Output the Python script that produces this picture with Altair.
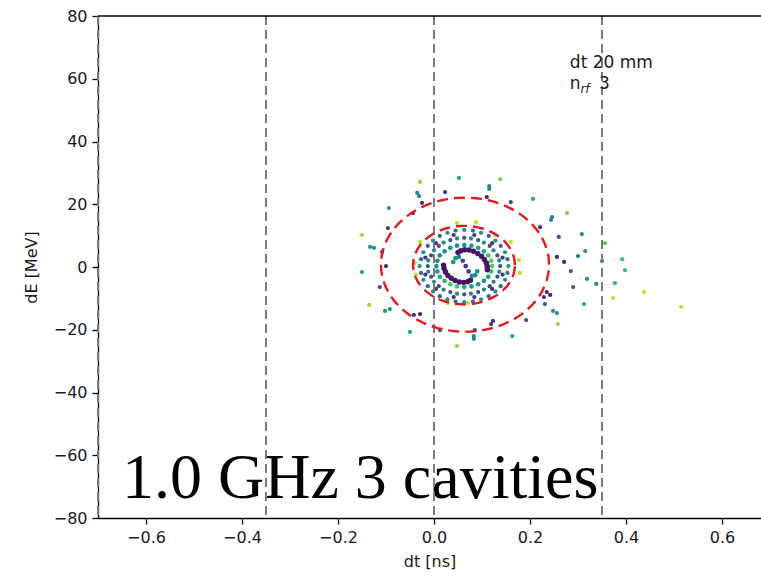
import altair as alt
import numpy as np
import pandas as pd

# ---------------- data ----------------
# outer (scattered) particles: dt [ns], dE [MeV], colour value (0..1 viridis)
outer_dt = [-0.029, 0.052, 0.138, 0.115, 0.115, 0.023, 0.110, 0.160, 0.206, -0.035,
            -0.031, -0.025, -0.094, -0.044, -0.096, -0.150, -0.133, -0.125, -0.108, -0.100,
            -0.150, -0.113, -0.135, -0.102, -0.092, -0.042, -0.029, -0.050, 0.0125, 0.048,
            0.085, 0.083, 0.083, 0.123, 0.119, 0.163, 0.192, 0.229, 0.244, 0.221,
            0.277, 0.246, 0.260, 0.308, 0.315, 0.300, 0.256, 0.271, 0.285, 0.356,
            0.350, 0.392, 0.398, 0.319, 0.338, 0.290, 0.377, 0.235, 0.242, 0.4375,
            0.373, 0.231, 0.3125, 0.248, 0.256, 0.515, 0.258]
outer_dE = [27.1, 28.4, 28.0, 25.8, 24.9, 23.9, 22.3, 20.7, 21.7, 23.6,
            22.6, 20.4, 18.8, 17.2, 12.4, 10.2, 6.4, 6.1, 4.8, 0.3,
            -1.6, -6.4, -12.1, -14.0, -13.4, -15.3, -15.0, -20.7, -20.1, -25.2,
            -20.1, -22.0, -22.9, -17.2, -18.2, -22.0, -16.9, -9.6, 15.0, 12.7,
            17.2, 15.9, 9.6, 10.5, 5.1, 3.5, 3.2, 1.6, -1.3, 7.6,
            1.9, 2.5, -1.0, -3.8, -5.4, -6.4, -5.1, -8.0, -8.9, -8.0,
            -9.9, -11.8, -11.8, -14.0, -14.7, -12.7, -18.2]
outer_c = [0.85, 0.6, 0.8, 0.45, 0.45, 0.15, 0.1, 0.2, 0.6, 0.45,
           0.45, 0.15, 0.55, 0.15, 0.2, 0.85, 0.5, 0.5, 0.2, 0.1,
           0.6, 0.25, 0.85, 0.5, 0.5, 0.1, 0.1, 0.6, 0.2, 0.85,
           0.2, 0.45, 0.45, 0.15, 0.15, 0.6, 0.25, 0.15, 0.5, 0.15,
           0.8, 0.45, 0.25, 0.5, 0.5, 0.4, 0.1, 0.1, 0.3, 0.75,
           0.45, 0.7, 0.7, 0.5, 0.5, 0.3, 0.65, 0.1, 0.1, 0.9,
           0.9, 0.3, 0.6, 0.5, 0.5, 0.9, 0.85]

# yellow particles sitting on the inner separatrix
edge_dt = [0.048, 0.0875, -0.029, 0.160, 0.177, 0.179, 0.029, 0.071, -0.040, -0.0375, 0.127]
edge_dE = [14.0, 14.3, 8.0, 8.0, 2.2, -1.9, -11.5, -11.5, 1.3, -2.5, 10.2]

# ring A (outermost dotted ring of the core)
ringA_dt = [0.155, 0.153, 0.148, 0.139, 0.128, 0.114, 0.098, 0.081, 0.063, 0.045, 0.028, 0.012,
            -0.002, -0.013, -0.022, -0.027, -0.030, -0.027, -0.022, -0.013, -0.002, 0.012,
            0.028, 0.045, 0.063, 0.081, 0.098, 0.114, 0.128, 0.139, 0.148, 0.153]
ringA_dE = [0.3, 2.5, 4.7, 6.7, 8.4, 9.9, 10.9, 11.6, 11.8, 11.6, 10.9, 9.9,
            8.4, 6.7, 4.7, 2.5, 0.3, -1.9, -4.1, -6.1, -7.8, -9.3,
            -10.3, -11.0, -11.2, -11.0, -10.3, -9.3, -7.8, -6.1, -4.1, -1.9]
ringA_c = [0.5, 0.35] * 16

# ring between A and B
ringAB_dt = [0.143, 0.121, 0.084, 0.041, 0.004, -0.018, -0.018, 0.004, 0.041, 0.084, 0.121, 0.143]
ringAB_dE = [3.0, 7.6, 10.2, 10.2, 7.6, 3.0, -2.4, -7.0, -9.6, -9.6, -7.0, -2.4]

# ring B
ringB_dt = [0.138, 0.136, 0.132, 0.124, 0.116, 0.104, 0.092, 0.077, 0.063, 0.048, 0.034, 0.020,
            0.010, 0.000, -0.006, -0.012, -0.013, -0.012, -0.006, 0.000, 0.010, 0.020,
            0.034, 0.048, 0.063, 0.077, 0.092, 0.104, 0.116, 0.124, 0.132, 0.136]
ringB_dE = [0.3, 2.1, 3.7, 5.3, 6.7, 7.8, 8.6, 9.1, 9.3, 9.1, 8.6, 7.8,
            6.7, 5.3, 3.7, 2.1, 0.3, -1.5, -3.1, -4.7, -6.1, -7.2,
            -8.0, -8.5, -8.7, -8.5, -8.0, -7.2, -6.1, -4.7, -3.1, -1.5]

# ring C (continuous teal filament)
ringC_dt = [0.121, 0.119, 0.113, 0.104, 0.092, 0.078, 0.063, 0.048, 0.034, 0.022, 0.012, 0.007,
            0.005, 0.007, 0.012, 0.022, 0.034, 0.048, 0.063, 0.078, 0.092, 0.104, 0.113, 0.119]
ringC_dE = [0.3, 2.0, 3.7, 5.0, 6.1, 6.8, 7.0, 6.8, 6.1, 5.0, 3.7, 2.0,
            0.3, -1.4, -3.1, -4.4, -5.5, -6.2, -6.4, -6.2, -5.5, -4.4, -3.1, -1.4]
ringC_c = [0.75, 0.75, 0.7, 0.6, 0.55, 0.55, 0.5, 0.5, 0.5, 0.45, 0.45, 0.45,
           0.5, 0.55, 0.6, 0.65, 0.7, 0.7, 0.6, 0.55, 0.5, 0.5, 0.55, 0.7]

# dark spiral arms (the "S")
arm_dt = [0.050, 0.056, 0.064, 0.073, 0.082, 0.091, 0.099, 0.105, 0.109, 0.111, 0.111,
          0.076, 0.070, 0.062, 0.053, 0.044, 0.036, 0.029, 0.024, 0.021, 0.020]
arm_dE = [4.6, 5.2, 5.5, 5.4, 5.0, 4.3, 3.4, 2.4, 1.3, 0.2, -0.9,
          -4.2, -4.7, -4.9, -4.8, -4.3, -3.6, -2.7, -1.6, -0.5, 0.6]

# inner S core
s_dt = [0.040, 0.045, 0.052, 0.060, 0.066, 0.072, 0.079, 0.086, 0.090]
s_dE = [1.6, 2.8, 3.2, 2.0, 0.3, -1.4, -2.8, -2.6, -1.4]
s_c = [0.5, 0.5, 0.45, 0.2, 0.15, 0.2, 0.45, 0.5, 0.5]

# separatrices (red dashed ellipses): centre dt, centre dE, half-width, half-height
ell_names = ["outer", "inner"]
ell_cx = [0.0646, 0.0625]
ell_cy = [0.75, 0.6]
ell_rx = [0.175, 0.106]
ell_ry = [21.35, 12.5]

# vertical bucket boundaries
vline_dt = [-0.7, -0.35, 0.0, 0.35]

x_ticks = [-0.6, -0.4, -0.2, 0.0, 0.2, 0.4, 0.6]
y_ticks = [-80, -60, -40, -20, 0, 20, 40, 60, 80]

# ---------------- tables ----------------
pts = pd.concat([
    pd.DataFrame({"dt": outer_dt, "dE": outer_dE, "c": outer_c, "s": 18}),
    pd.DataFrame({"dt": edge_dt, "dE": edge_dE, "c": [0.9] * len(edge_dt), "s": 18}),
    pd.DataFrame({"dt": ringA_dt, "dE": ringA_dE, "c": ringA_c, "s": 18}),
    pd.DataFrame({"dt": ringAB_dt, "dE": ringAB_dE, "c": [0.15] * len(ringAB_dt), "s": 18}),
    pd.DataFrame({"dt": ringB_dt, "dE": ringB_dE, "c": [0.25, 0.45] * 16, "s": 18}),
    pd.DataFrame({"dt": ringC_dt, "dE": ringC_dE, "c": ringC_c, "s": 22}),
    pd.DataFrame({"dt": arm_dt, "dE": arm_dE, "c": [0.05] * len(arm_dt), "s": 30}),
    pd.DataFrame({"dt": s_dt, "dE": s_dE, "c": s_c, "s": 22}),
], ignore_index=True)

rows = []
t = np.linspace(0, 2 * np.pi, 181)
for name, cx, cy, rx, ry in zip(ell_names, ell_cx, ell_cy, ell_rx, ell_ry):
    for i, a in enumerate(t):
        rows.append({"e": name, "i": i, "dt": cx + rx * np.cos(a), "dE": cy + ry * np.sin(a)})
ell = pd.DataFrame(rows)

vl = pd.DataFrame({"dt": vline_dt})

W, H = 663, 502
xs = alt.Scale(domain=[-0.7, -0.7 + W / 480.0], nice=False, zero=False)
ys = alt.Scale(domain=[-80, 80], nice=False, zero=False)

X = alt.X("dt:Q", scale=xs, title="dt [ns]",
          axis=alt.Axis(values=x_ticks, format=".1f", grid=False))
Y = alt.Y("dE:Q", scale=ys, title="dE [MeV]",
          axis=alt.Axis(values=y_ticks, format="d", grid=False))

big = alt.Chart(pd.DataFrame({"dt": [-0.650], "dE": [-73.6], "t": ["1.0 GHz 3 cavities"]})).mark_text(
    font="Liberation Serif", fontSize=64, align="left", baseline="alphabetic", color="black"
).encode(x=X, y=Y, text="t:N")

points = alt.Chart(pts).mark_circle(opacity=1).encode(
    x=X, y=Y,
    color=alt.Color("c:Q", scale=alt.Scale(scheme="viridis", domain=[0, 1]), legend=None),
    size=alt.Size("s:Q", scale=None, legend=None),
)

vlines = alt.Chart(vl).mark_rule(color="#7a7a7a", strokeWidth=2, strokeDash=[9, 5]).encode(x=X)

ellipses = alt.Chart(ell).mark_line(color="#e3191c", strokeWidth=2.4, strokeDash=[11, 6]).encode(
    x=X, y=Y, detail="e:N", order="i:Q"
)

ann1 = alt.Chart(pd.DataFrame({"dt": [0.283, 0.283, 0.344], "dE": [63.4, 56.7, 56.7],
                               "t": ["dt 20 mm", "n", "3"]})).mark_text(
    font="DejaVu Sans", fontSize=17, align="left", baseline="alphabetic", color="#1a1a1a"
).encode(x=X, y=Y, text="t:N")
ann2 = alt.Chart(pd.DataFrame({"dt": [0.305], "dE": [55.4], "t": ["rf"]})).mark_text(
    font="DejaVu Sans", fontSize=12, fontStyle="italic", align="left", baseline="alphabetic", color="#1a1a1a"
).encode(x=X, y=Y, text="t:N")

topline = alt.Chart(pd.DataFrame({"k": [0]})).mark_rule(color="black", strokeWidth=1.3).encode(
    x=alt.value(0), x2=alt.value(W), y=alt.value(0)
)

chart = alt.layer(big, points, vlines, ellipses, ann1, ann2, topline).properties(
    width=W, height=H,
    autosize=alt.AutoSizeParams(type="none"),
    padding={"left": 98, "top": 16, "right": 0, "bottom": 60},
).configure_view(stroke=None).configure_axis(
    labelFont="DejaVu Sans", labelFontSize=16, labelColor="#1a1a1a",
    titleFont="DejaVu Sans", titleFontSize=16, titleFontWeight="normal", titleColor="#1a1a1a",
    domainColor="black", domainWidth=1.3, tickColor="black", tickWidth=1.3, tickSize=6,
    labelPadding=5,
).configure_axisX(titlePadding=8).configure_axisY(titlePadding=14)

chart.save("out.html", embed_options={"renderer": "svg", "actions": False})
